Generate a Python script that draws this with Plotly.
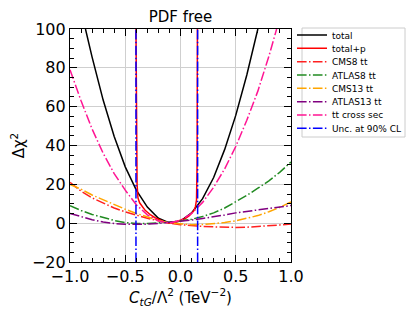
import plotly.graph_objects as go

# ---------------- data ----------------
x_total = [-0.86, -0.8, -0.7, -0.6, -0.5, -0.4, -0.3, -0.2, -0.1, 0.0, 0.1, 0.2, 0.3, 0.4, 0.5, 0.6, 0.7]
y_total = [100, 85.5, 63.4, 44.6, 29, 17, 8.3, 2.5, 0.1, 1.1, 5.3, 12.6, 23.5, 38, 55.5, 76.3, 100]

x_totalp = [-0.403, -0.398, -0.393, -0.385, -0.37, -0.32, -0.27, -0.23, -0.18, -0.14, -0.1,
            -0.05, 0.0, 0.04, 0.08, 0.10, 0.12, 0.135, 0.145, 0.150, 0.153]
y_totalp = [100, 40, 20, 13, 10.5, 6.6, 4.2, 2.8, 1.4, 0.5, 0.0,
            0.5, 1.5, 2.3, 3.8, 4.9, 6.3, 8.5, 12, 30, 100]

x_grid = [-1.0, -0.9, -0.8, -0.7, -0.6, -0.5, -0.4, -0.3, -0.2, -0.1, 0.0,
          0.1, 0.2, 0.3, 0.4, 0.5, 0.6, 0.7, 0.8, 0.9, 1.0]
y_cms8 = [21, 16.5, 13, 10.3, 7.8, 5.8, 4.0, 2.5, 1.2, 0.0, -0.8,
          -1.3, -1.7, -1.9, -2.1, -2.2, -2.1, -1.8, -1.4, -0.9, -0.4]
y_atlas8 = [9, 6.5, 4.5, 2.8, 1.4, 0.3, -0.2, -0.2, 0.1, 0.6, 1.2,
            2.0, 3.4, 5.3, 7.8, 11.0, 14.3, 18.0, 21.8, 26.3, 31.5]
y_cms13 = [20, 17.5, 14.5, 12, 9.5, 7.2, 5.0, 3.1, 1.4, 0.1, -0.5,
           -0.8, -0.7, -0.3, 0.3, 1.2, 2.4, 3.9, 5.9, 8.2, 11.0]
y_atlas13 = [5, 3.2, 1.8, 0.6, -0.2, -0.6, -0.7, -0.5, -0.1, 0.4, 0.9,
             1.6, 2.4, 3.2, 4.2, 5.3, 6.1, 6.9, 7.6, 8.4, 9.1]
x_xsec = [-1.0, -0.9, -0.8, -0.7, -0.6, -0.5, -0.4, -0.3, -0.2, -0.1, 0.0,
          0.1, 0.2, 0.3, 0.4, 0.5, 0.6, 0.7, 0.8, 0.87]
y_xsec = [79, 63, 48.5, 36, 25.5, 17, 9.5, 4.3, 1.2, 0.0, 1.5,
          5.0, 10.7, 18.5, 28, 39.5, 53, 68, 86, 100]
unc_bounds = [-0.403, 0.155]

labels = ["total", "total+p", "CMS8 tt", "ATLAS8 tt", "CMS13 tt", "ATLAS13 tt",
          "tt cross sec", "Unc. at 90% CL"]

x_range = [-1.0, 1.0]
y_range = [-20, 100]

# ---------------- figure ----------------
FONT = "DejaVu Sans"
DD = "9.6px,2.4px,1.5px,2.4px"
OFF = 8  # page body margin offset in the browser

ux, uy = [], []
for b in unc_bounds:
    ux += [b, b, None]
    uy += [y_range[0], y_range[1], None]

series = [
    (x_total, y_total, "black", "solid"),
    (x_totalp, y_totalp, "red", "solid"),
    (x_grid, y_cms8, "#ff2020", DD),
    (x_grid, y_atlas8, "#228b22", DD),
    (x_grid, y_cms13, "orange", DD),
    (x_grid, y_atlas13, "purple", DD),
    (x_xsec, y_xsec, "deeppink", DD),
    (ux, uy, "blue", DD),
]

fig = go.Figure()
for i, ((xs, ys, col, dash), name) in enumerate(zip(series, labels)):
    lg = "legend" if i == 0 else f"legend{i+1}"
    fig.add_trace(go.Scatter(x=xs, y=ys, mode="lines", name=name, showlegend=True,
                             line=dict(color=col, width=1.5, dash=dash),
                             legend=lg, connectgaps=False))

W, H = 420 - OFF, 315 - OFF
# plot area in screen pixels (reference): x 70..291, y 29..262
L = 70 - OFF
T = 29 - OFF
pw, ph = 221, 233
R = W - L - pw
B = H - T - ph


def px2paper_x(sx):
    return (sx - OFF - L) / pw


def px2paper_y(sy):
    return (T + ph - (sy - OFF)) / ph


leg_layout = {}
for i in range(len(labels)):
    key = "legend" if i == 0 else f"legend{i+1}"
    ypx = 35 + 13.33 * i
    leg_layout[key] = dict(
        x=px2paper_x(292), xanchor="left",
        y=px2paper_y(ypx), yanchor="middle",
        bgcolor="rgba(0,0,0,0)", borderwidth=0,
        font=dict(family=FONT, size=9, color="black"),
        itemwidth=30,
    )

axis_common = dict(
    showline=True, linecolor="black", linewidth=1.2, mirror="ticks",
    ticks="inside", ticklen=7, tickwidth=1.1, tickcolor="black",
    showgrid=True, gridcolor="#cfcfcf", gridwidth=1, zeroline=False,
    tickfont=dict(family=FONT, size=16, color="black"),
)

fig.update_layout(
    width=W, height=H,
    showlegend=True,
    margin=dict(l=L, r=R, t=T, b=B, pad=0, autoexpand=False),
    paper_bgcolor="white", plot_bgcolor="white",
    font=dict(family=FONT, color="black"),
    title=dict(text="PDF free", x=(L + pw / 2) / W, xanchor="center",
               y=1 - (17 - OFF) / H, yanchor="middle",
               font=dict(family=FONT, size=15, color="black")),
    xaxis=dict(range=x_range, dtick=0.5, tick0=-1, tickformat=".1f",
               minor=dict(dtick=0.1, ticklen=4, tickcolor="black", ticks="inside", showgrid=False),
               title=dict(text="<i>C</i><sub><i>tG</i></sub>/Λ<sup>2</sup> (TeV<sup>−2</sup>)",
                          font=dict(family=FONT, size=15), standoff=1),
               **axis_common),
    yaxis=dict(range=y_range, dtick=20, tick0=-20,
               minor=dict(dtick=5, ticklen=4, tickcolor="black", ticks="inside", showgrid=False),
               title=dict(text="Δχ<sup>2</sup>", font=dict(family=FONT, size=15), standoff=6),
               **axis_common),
    shapes=[dict(type="rect", xref="paper", yref="paper",
                 x0=px2paper_x(302), x1=px2paper_x(405),
                 y0=px2paper_y(137), y1=px2paper_y(28),
                 line=dict(color="#cccccc", width=1), fillcolor="rgba(0,0,0,0)",
                 layer="below")],
    **leg_layout,
)

fig.write_html("out.html")
